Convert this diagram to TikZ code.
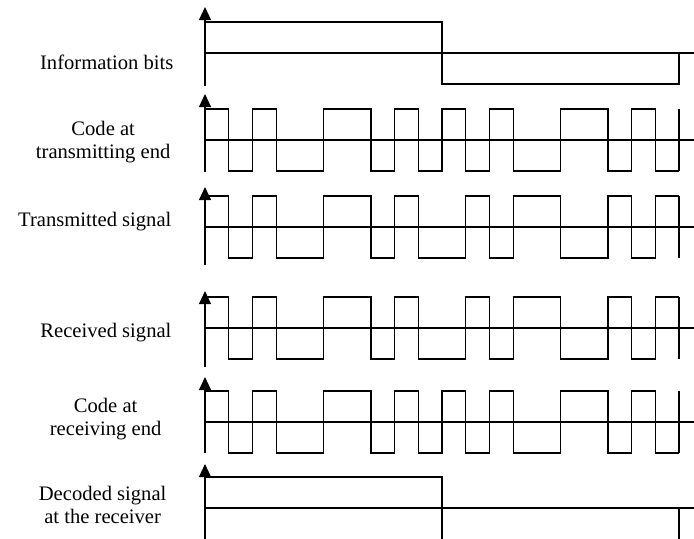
\documentclass[tikz,border=0pt]{standalone}
\usepackage{fontspec}
\setmainfont{Liberation Serif}
\usetikzlibrary{arrows.meta}

\begin{document}
\begin{tikzpicture}[
    x=0.5pt, y=-0.5pt,
    line width=0.6pt,
    axisline/.style={-{Triangle[length=6.5pt, width=6pt]}},
    rowlabel/.style={font=\fontsize{10.3}{11.8}\selectfont, align=center, anchor=east, inner sep=0pt}
]

\useasboundingbox (0,0) rectangle (694,538);
\clip (0,0) rectangle (694,538);

%% ================================================================
%% Helper: one chip row
%% \chiprow{zero line y}{arrow tip y}{axis bottom y}{chip levels}
%% ================================================================
\def\xnull{205}
\def\xend{694}
\def\chipw{23.7}
\def\amp{31}

\def\chiprow#1#2#3#4{%
    \draw[axisline] (\xnull,#3) -- (\xnull,#2);
    \draw (\xnull,#1) -- (\xend,#1);
    \draw (\xnull,#1) foreach \lv [count=\ci from 0] in {#4} {
        -- (\xnull+\ci*\chipw, #1-2*\lv*\amp+\amp)
        -- (\xnull+\ci*\chipw+\chipw, #1-2*\lv*\amp+\amp)};
    \draw (\xnull+20*\chipw, #1-\amp) -- (\xnull+20*\chipw, #1+\amp);
}

%% ================================================================
%% Information bits
%% ================================================================
\draw[axisline] (\xnull,86) -- (\xnull,7);
\draw (\xnull,53) -- (\xend,53);
\draw (\xnull,22) -- (\xnull+10*\chipw,22) -- (\xnull+10*\chipw,84)
    -- (\xnull+20*\chipw,84) -- (\xnull+20*\chipw,53);
\node[rowlabel] (infobits) at (174,62) {Information bits};

%% ================================================================
%% Code at transmitting end
%% ================================================================
\chiprow{140}{94}{172}{1,0,1,0,0,1,1,0,1,0,1,0,1,0,0,1,1,0,1,0}
\node[rowlabel] (codetx) at (171,142) {Code at\\transmitting end};

%% ================================================================
%% Transmitted signal
%% ================================================================
\chiprow{227}{187}{265}{1,0,1,0,0,1,1,0,1,0,0,1,0,1,1,0,0,1,0,1}
\node[rowlabel] (txsignal) at (172,222) {Transmitted signal};

%% ================================================================
%% Received signal
%% ================================================================
\chiprow{328}{291}{367}{1,0,1,0,0,1,1,0,1,0,0,1,0,1,1,0,0,1,0,1}
\node[rowlabel] (rxsignal) at (172,333) {Received signal};

%% ================================================================
%% Code at receiving end
%% ================================================================
\chiprow{422}{377}{453}{1,0,1,0,0,1,1,0,1,0,1,0,1,0,0,1,1,0,1,0}
\node[rowlabel] (coderx) at (162,419) {Code at\\receiving end};

%% ================================================================
%% Decoded signal (cut off at the lower edge)
%% ================================================================
\draw[axisline] (\xnull,545) -- (\xnull,464);
\draw (\xnull,508) -- (\xend,508);
\draw (\xnull,477) -- (\xnull+10*\chipw,477) -- (\xnull+10*\chipw,545);
\draw (\xnull+20*\chipw,508) -- (\xnull+20*\chipw,545);
\node[rowlabel] (decoded) at (167,505) {Decoded signal\\at the receiver};

\end{tikzpicture}
\end{document}
